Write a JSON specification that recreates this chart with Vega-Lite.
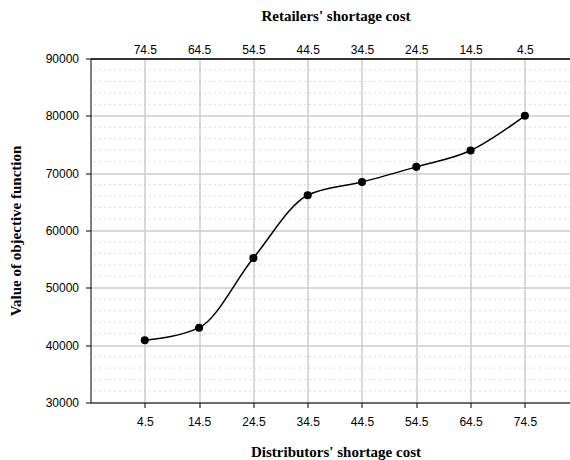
{
  "$schema": "https://vega.github.io/schema/vega-lite/v6.json",
  "width": 480,
  "height": 344,
  "autosize": "none",
  "padding": {"left": 90.5, "top": 58.5, "right": 0, "bottom": 57.5},
  "background": "white",
  "config": {"view": {"stroke": null}, "font": "Liberation Sans"},
  "datasets": {
    "pts": [
      {"dist": 4.5, "ret": 74.5, "obj": 40850},
      {"dist": 14.5, "ret": 64.5, "obj": 43050},
      {"dist": 24.5, "ret": 54.5, "obj": 55200},
      {"dist": 34.5, "ret": 44.5, "obj": 66150},
      {"dist": 44.5, "ret": 34.5, "obj": 68450},
      {"dist": 54.5, "ret": 24.5, "obj": 71100},
      {"dist": 64.5, "ret": 14.5, "obj": 73950},
      {"dist": 74.5, "ret": 4.5, "obj": 80000}
    ],
    "minor": [
      {"obj": 32000}, {"obj": 34000}, {"obj": 36000}, {"obj": 38000},
      {"obj": 42000}, {"obj": 44000}, {"obj": 46000}, {"obj": 48000},
      {"obj": 52000}, {"obj": 54000}, {"obj": 56000}, {"obj": 58000},
      {"obj": 62000}, {"obj": 64000}, {"obj": 66000}, {"obj": 68000},
      {"obj": 72000}, {"obj": 74000}, {"obj": 76000}, {"obj": 78000},
      {"obj": 82000}, {"obj": 84000}, {"obj": 86000}, {"obj": 88000}
    ]
  },
  "encoding": {
    "y": {
      "field": "obj",
      "type": "quantitative",
      "scale": {"domain": [30000, 90000], "nice": false, "zero": false},
      "axis": {
        "values": [30000, 40000, 50000, 60000, 70000, 80000, 90000],
        "format": "d",
        "grid": true,
        "gridColor": "#cccccc",
        "gridWidth": 1.5,
        "domainColor": "#000000",
        "domainWidth": 1,
        "tickColor": "#000000",
        "tickSize": 5,
        "labelFont": "Liberation Sans",
        "labelFontSize": 12,
        "labelColor": "#000000",
        "labelPadding": 7,
        "title": "Value of objective function",
        "titleFont": "Liberation Serif",
        "titleFontWeight": "bold",
        "titleFontSize": 15,
        "titleColor": "#000000",
        "titlePadding": 22
      }
    }
  },
  "layer": [
    {
      "data": {"name": "minor"},
      "mark": {"type": "rule", "color": "#b8b8b8", "strokeDash": [1, 4], "strokeWidth": 1}
    },
    {
      "data": {"name": "pts"},
      "mark": {"type": "point", "opacity": 0},
      "encoding": {
        "x": {
          "field": "ret",
          "type": "quantitative",
          "scale": {"domain": [-3.9, 84.5], "reverse": true, "nice": false, "zero": false},
          "axis": {
            "orient": "top",
            "values": [74.5, 64.5, 54.5, 44.5, 34.5, 24.5, 14.5, 4.5],
            "format": ".1f",
            "grid": false,
            "ticks": false,
            "domainColor": "#333333",
            "domainWidth": 2,
            "labelFont": "Liberation Sans",
            "labelFontSize": 12,
            "labelColor": "#000000",
            "labelPadding": 2,
            "title": "Retailers' shortage cost",
            "titleFont": "Liberation Serif",
            "titleFontWeight": "bold",
            "titleFontSize": 15,
            "titleColor": "#000000",
            "titlePadding": 20,
            "titleX": 245
          }
        }
      }
    },
    {
      "data": {"name": "pts"},
      "layer": [
        {
          "mark": {"type": "line", "interpolate": "monotone", "color": "#000000", "strokeWidth": 1.5}
        },
        {
          "mark": {"type": "circle", "size": 65, "color": "#000000", "opacity": 1}
        }
      ],
      "encoding": {
        "x": {
          "field": "dist",
          "type": "quantitative",
          "scale": {"domain": [-5.5, 82.9], "nice": false, "zero": false},
          "axis": {
            "orient": "bottom",
            "values": [4.5, 14.5, 24.5, 34.5, 44.5, 54.5, 64.5, 74.5],
            "format": ".1f",
            "grid": true,
            "gridColor": "#cccccc",
            "gridWidth": 1.5,
            "domainColor": "#000000",
            "domainWidth": 1,
            "tickColor": "#000000",
            "tickSize": 5,
            "labelFont": "Liberation Sans",
            "labelFontSize": 12,
            "labelColor": "#000000",
            "labelPadding": 9,
            "title": "Distributors' shortage cost",
            "titleFont": "Liberation Serif",
            "titleFontWeight": "bold",
            "titleFontSize": 15,
            "titleColor": "#000000",
            "titlePadding": 17,
            "titleX": 245
          }
        }
      }
    }
  ],
  "resolve": {"scale": {"x": "independent"}}
}
